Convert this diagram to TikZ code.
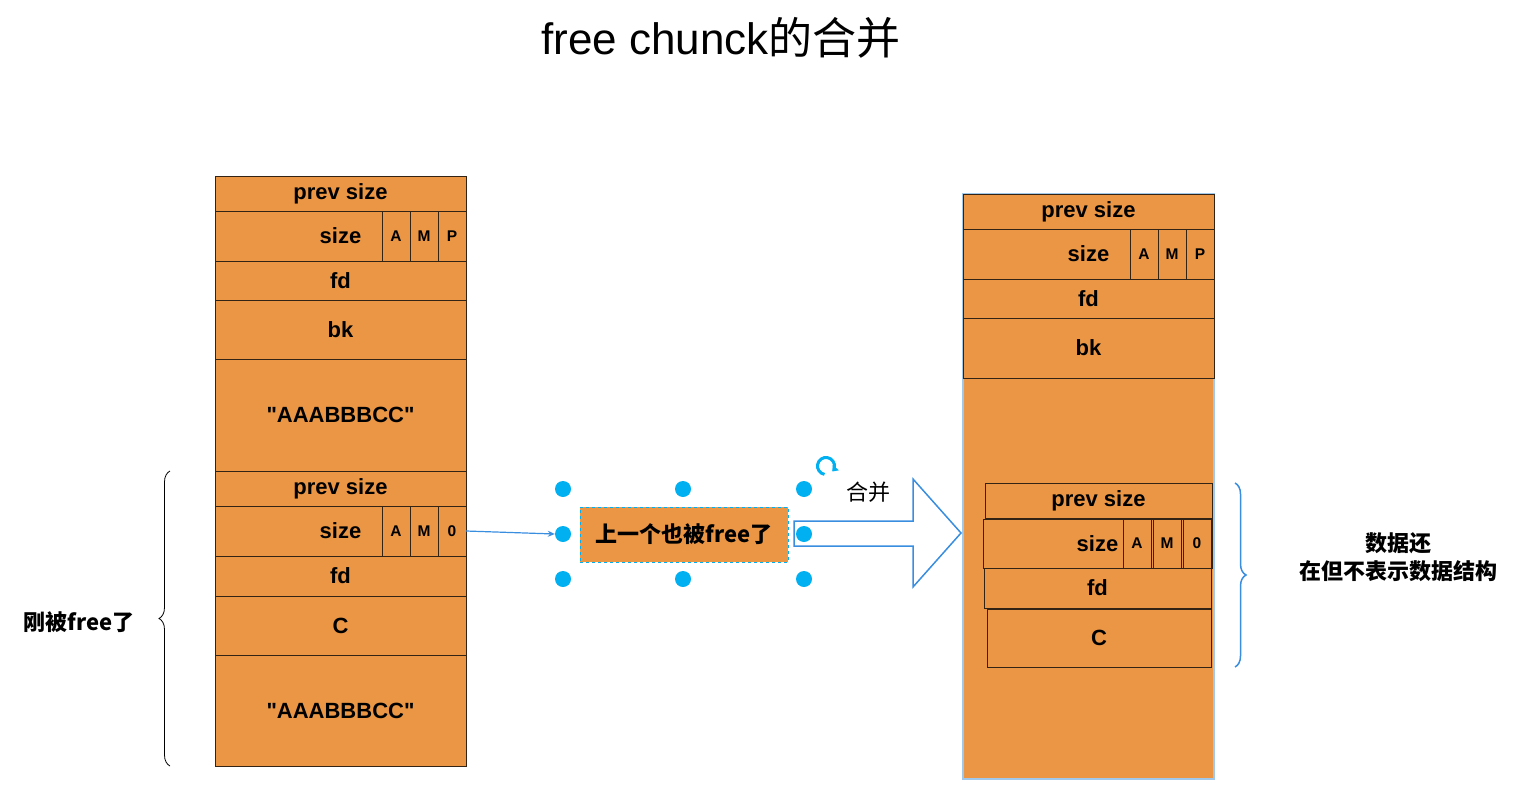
\documentclass[tikz,border=0pt]{standalone}
\usepackage{fontspec}
\setmainfont{Liberation Sans}[Ligatures=TeXOff]
\newfontfamily\cjk{Noto Sans CJK SC}
\usetikzlibrary{decorations.pathreplacing,arrows.meta}
\definecolor{chunkorange}{RGB}{234,150,69}
\definecolor{chunkline}{RGB}{50,35,20}
\definecolor{selblue}{RGB}{0,176,240}
\definecolor{arrowblue}{RGB}{58,142,224}
\definecolor{paleblue}{RGB}{160,200,235}
\tikzset{
  field/.style={draw=chunkline,fill=chunkorange,line width=1pt,inner sep=0pt,outer sep=0pt,
    font=\bfseries\fontsize{22}{25}\selectfont},
  flag/.style={field,minimum width=28pt,font=\bfseries\fontsize{15.5}{18}\selectfont},
  handle/.style={circle,fill=selblue,inner sep=0pt,minimum size=16pt},
  brace/.style={decorate,decoration={brace,amplitude=11pt}},
}
\begin{document}
\begin{tikzpicture}[x=1pt,y=-1pt]
\useasboundingbox (0,0) rectangle (1528,808);

\node at (721,38) {\fontsize{44}{50}\selectfont free chunck{\cjk 的合并}};

% left chunk
\node[field,minimum width=251pt,minimum height=35pt] (lprev) at (340.5,193.5) {\raisebox{-2pt}{prev size}};
\node[field,minimum width=251pt,minimum height=50pt] (lsize) at (340.5,236) {size};
\node[flag,minimum height=50pt] (lfa) at (396,236) {A};
\node[flag,minimum height=50pt] (lfm) at (424,236) {M};
\node[flag,minimum height=50pt] (lfp) at (452,236) {P};
\node[field,minimum width=251pt,minimum height=39pt] (lfd) at (340.5,280.5) {fd};
\node[field,minimum width=251pt,minimum height=59pt] (lbk) at (340.5,329.5) {bk};
\node[field,minimum width=251pt,minimum height=112pt] (ldata) at (340.5,415) {"AAABBBCC"};

\node[field,minimum width=251pt,minimum height=35pt] (lprevb) at (340.5,488.5) {\raisebox{-2pt}{prev size}};
\node[field,minimum width=251pt,minimum height=50pt] (lsizeb) at (340.5,531) {size};
\node[flag,minimum height=50pt] (lfab) at (396,531) {A};
\node[flag,minimum height=50pt] (lfmb) at (424,531) {M};
\node[flag,minimum height=50pt] (lfzb) at (452,531) {0};
\node[field,minimum width=251pt,minimum height=40pt] (lfdb) at (340.5,576) {fd};
\node[field,minimum width=251pt,minimum height=59pt] (lc) at (340.5,625.5) {C};
\node[field,minimum width=251pt,minimum height=111pt] (ldatab) at (340.5,710.5) {"AAABBBCC"};

\draw[brace,line width=0.8pt] ([xshift=-45pt]ldatab.south west) -- ([xshift=-45pt]lprevb.north west);
\node at (79,622) {\cjk\bfseries\fontsize{22}{25}\selectfont 刚被free了};

% selected box
\draw[arrowblue,line width=1.5pt,fill=white,line join=miter]
  (794,521) -- (913,521) -- (913,479) -- (961,533) -- (913,587) -- (913,546) -- (794,546) -- cycle;
\node[field,draw=selblue,dashed,minimum width=208pt,minimum height=55pt,
  font=\cjk\bfseries\fontsize{22}{25}\selectfont] (mid) at (684,534.5) {上一个也被free了};
\node[handle] (hnw) at (563,489) {};
\node[handle] (hn) at (683,489) {};
\node[handle] (hne) at (804,489) {};
\node[handle] (hw) at (563,534) {};
\node[handle] (he) at (804,534) {};
\node[handle] (hsw) at (563,579) {};
\node[handle] (hs) at (683,579) {};
\node[handle] (hse) at (804,579) {};
\draw[selblue,line width=3pt,-{Triangle[length=5pt,width=8pt]}]
  ([shift={(100:8.5)}]826,466) arc[start angle=100,end angle=400,radius=8.5];
\draw[arrowblue,line width=1.2pt,-{Stealth[length=7pt,width=6pt]}] (lfzb.east) -- (hw.west);
\node at (868,492) {\cjk\fontsize{22}{25}\selectfont 合并};

% right chunk
\fill[chunkorange,draw=paleblue,line width=1.5pt] (963,194) rectangle (1214,779);
\node[field,minimum width=251pt,minimum height=35pt] (rprev) at (1088.5,211.5) {\raisebox{-2pt}{prev size}};
\node[field,minimum width=251pt,minimum height=50pt] (rsize) at (1088.5,254) {size};
\node[flag,minimum height=50pt] (rfa) at (1144,254) {A};
\node[flag,minimum height=50pt] (rfm) at (1172,254) {M};
\node[flag,minimum height=50pt] (rfp) at (1200,254) {P};
\node[field,minimum width=251pt,minimum height=39pt] (rfd) at (1088.5,298.5) {fd};
\node[field,minimum width=251pt,minimum height=60pt] (rbk) at (1088.5,348) {bk};

\node[field,minimum width=227pt,minimum height=35pt] (rprevb) at (1098.5,500.5) {\raisebox{-2pt}{prev size}};
\node[field,minimum width=229pt,minimum height=49pt] (rsizeb) at (1097.5,543.5) {size};
\node[flag,minimum height=49pt] (rfab) at (1137,543.5) {A};
\node[flag,minimum height=49pt] (rfmb) at (1167,543.5) {M};
\node[flag,minimum height=49pt] (rfzb) at (1197,543.5) {0};
\node[field,minimum width=227pt,minimum height=40pt] (rfdb) at (1097.5,588) {fd};
\node[field,minimum width=224pt,minimum height=58pt] (rc) at (1099,638) {C};

\draw[brace,arrowblue,line width=1.5pt] ([xshift=23pt]rprevb.north east) -- ([xshift=24pt]rc.south east);
\node[align=center,font=\cjk\bfseries\fontsize{22}{28}\selectfont] at (1398,557) {数据还\\在但不表示数据结构};
\end{tikzpicture}
\end{document}
